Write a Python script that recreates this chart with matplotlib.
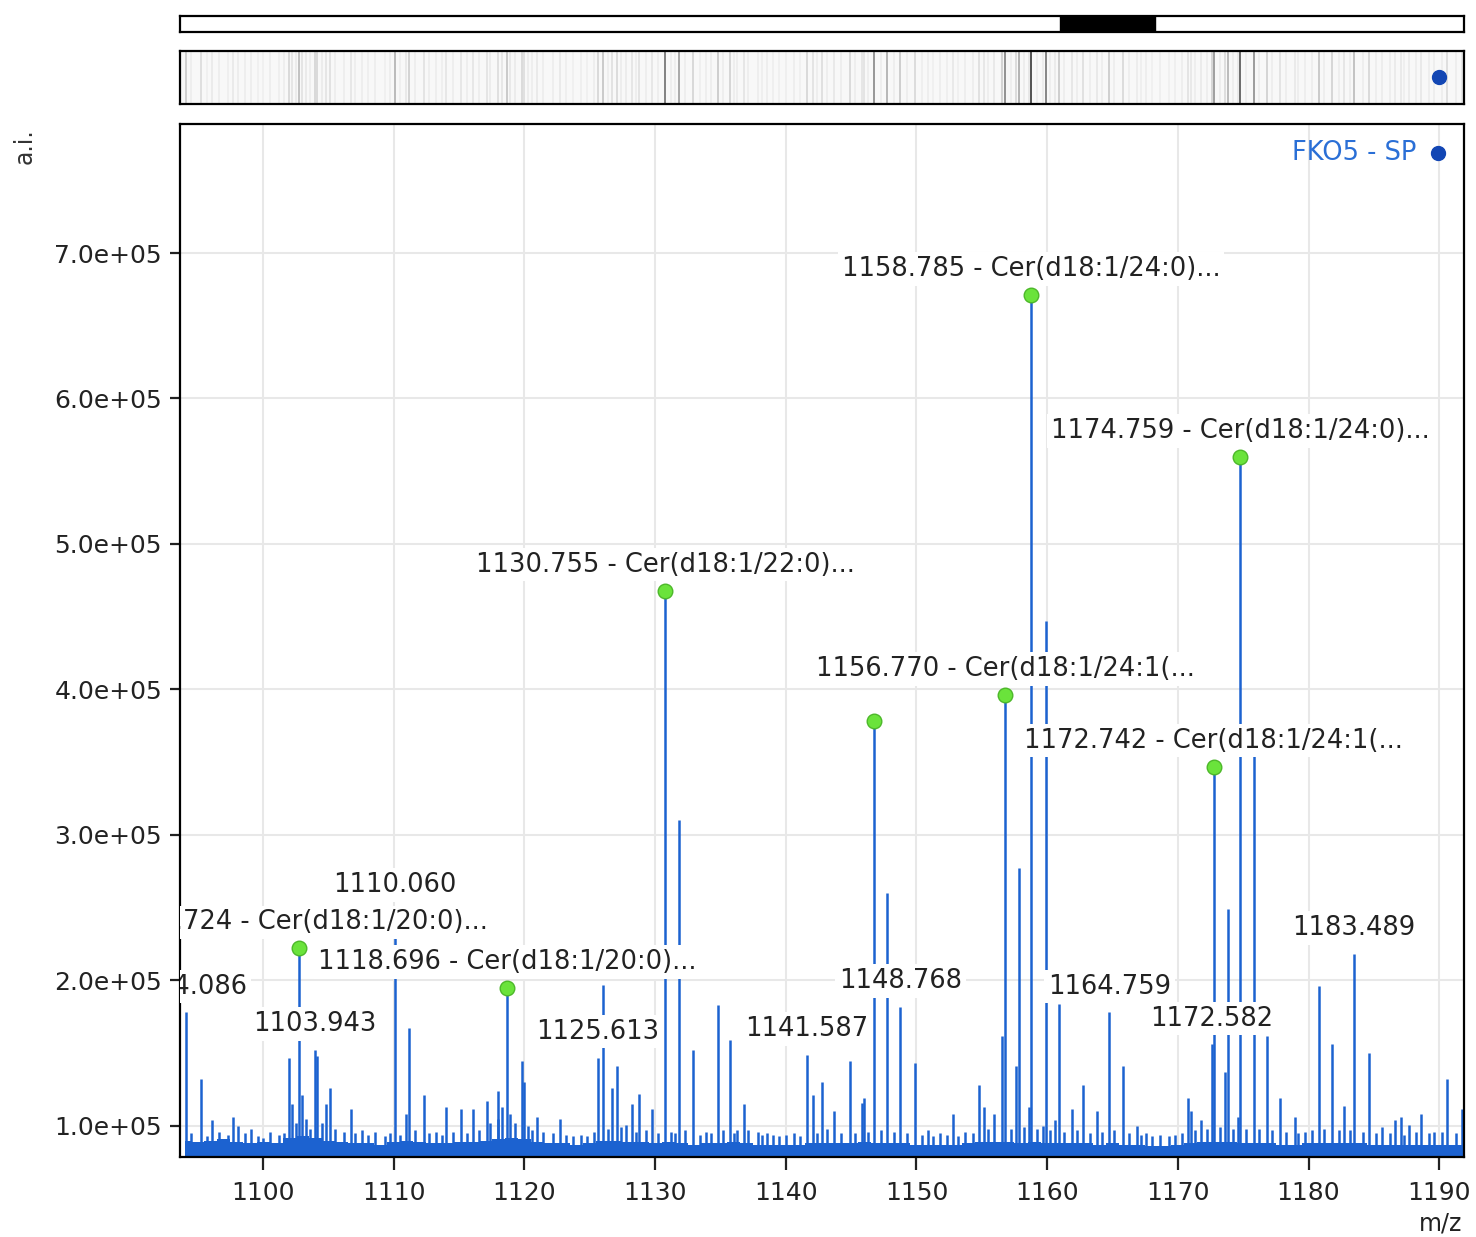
import numpy as np
import matplotlib
matplotlib.use("Agg")
import matplotlib.pyplot as plt
from matplotlib.ticker import FuncFormatter, MultipleLocator
from matplotlib.patches import Rectangle

# ---- data (m/z, intensity in units of 1e5) ----
peak_mz = [1094.086, 1095.25, 1096.1, 1097.7, 1098.1, 1099.1, 1102.0, 1102.25, 1102.724, 1103.0,
           1103.943, 1104.15, 1104.8, 1105.1, 1106.7, 1107.6, 1110.060, 1110.95, 1111.2, 1112.3,
           1114.0, 1115.15, 1116.05, 1117.1, 1117.95, 1118.25, 1118.696, 1119.8, 1120.0, 1121.0,
           1122.7, 1123.7, 1125.613, 1126.05, 1126.7, 1127.1, 1127.8, 1128.2, 1128.8, 1129.3,
           1129.8, 1130.755, 1131.85, 1132.9, 1134.8, 1135.7, 1136.3, 1136.8, 1137.1, 1137.9,
           1138.6, 1141.587, 1142.1, 1142.75, 1143.15, 1143.7, 1144.2, 1144.9, 1145.8, 1146.0,
           1146.75, 1147.75, 1148.768, 1149.9, 1150.9, 1151.8, 1152.8, 1153.7, 1154.8, 1155.15,
           1155.9, 1156.55, 1156.770, 1157.65, 1157.85, 1158.6, 1158.785, 1159.65, 1159.9, 1160.6,
           1160.9, 1161.9, 1162.75, 1163.8, 1164.759, 1165.15, 1165.8, 1166.9, 1167.6, 1170.75,
           1171.0, 1171.75, 1172.582, 1172.742, 1173.6, 1173.85, 1174.6, 1174.759, 1175.85, 1176.85,
           1177.85, 1178.95, 1179.7, 1180.8, 1181.8, 1182.75, 1183.489, 1184.6, 1185.6, 1186.6,
           1187.05, 1187.65, 1188.6, 1189.6, 1190.6, 1191.75]
peak_int = [1.78, 1.32, 1.04, 1.06, 1.00, 0.98, 1.47, 1.15, 2.22, 1.21,
            1.52, 1.48, 1.15, 1.26, 1.12, 0.97, 2.48, 1.08, 1.67, 1.21,
            1.13, 1.12, 1.12, 1.17, 1.24, 1.13, 1.95, 1.45, 1.30, 1.06,
            1.05, 0.93, 1.47, 1.97, 1.26, 1.41, 1.01, 1.15, 1.22, 0.97,
            1.12, 4.68, 3.10, 1.52, 1.83, 1.59, 0.97, 1.15, 0.97, 0.96,
            0.95, 1.49, 1.21, 1.30, 0.98, 1.10, 0.95, 1.45, 1.16, 1.19,
            3.78, 2.60, 1.82, 1.43, 0.97, 0.95, 1.08, 0.96, 1.28, 1.13,
            1.08, 1.62, 3.96, 1.41, 2.77, 1.13, 6.71, 1.00, 4.47, 1.04,
            1.84, 1.12, 1.28, 1.10, 1.78, 0.97, 1.41, 1.00, 0.95, 1.19,
            1.10, 1.04, 1.56, 3.47, 1.37, 2.49, 1.06, 5.60, 3.60, 1.62,
            1.19, 1.06, 0.96, 1.96, 1.56, 1.14, 2.18, 1.50, 0.99, 1.04,
            1.06, 1.01, 1.08, 0.96, 1.32, 1.12]

# small noise spikes sitting on the floor
minor_mz = [1094.5, 1095.7, 1096.6, 1097.3, 1098.6, 1099.6, 1100.0, 1100.5, 1101.2, 1101.6,
            1102.5, 1103.3, 1103.6, 1104.5, 1105.5, 1106.2, 1107.0, 1108.0, 1108.6, 1109.3,
            1109.7, 1110.5, 1111.6, 1112.7, 1113.2, 1113.7, 1114.5, 1115.6, 1116.5, 1117.4,
            1118.0, 1118.9, 1119.3, 1120.3, 1120.6, 1121.4, 1122.2, 1123.2, 1124.3, 1124.8,
            1125.3, 1126.4, 1127.4, 1128.5, 1130.2, 1131.2, 1131.5, 1132.3, 1133.4, 1133.9,
            1134.3, 1135.2, 1136.0, 1138.2, 1139.0, 1139.5, 1140.0, 1140.6, 1141.1, 1142.4,
            1145.3, 1146.3, 1147.3, 1148.3, 1149.3, 1150.4, 1151.3, 1152.3, 1153.2, 1154.3,
            1155.5, 1157.2, 1158.2, 1159.2, 1160.2, 1161.3, 1162.3, 1163.3, 1164.2, 1166.3,
            1167.2, 1168.0, 1168.6, 1169.3, 1169.8, 1170.3, 1171.3, 1172.2, 1173.2, 1174.2,
            1175.2, 1176.2, 1177.2, 1178.3, 1179.2, 1180.3, 1181.2, 1182.3, 1183.2, 1184.2,
            1185.2, 1186.2, 1187.3, 1188.2, 1189.2, 1190.2, 1191.3]
minor_int = [0.95, 0.93, 0.96, 0.94, 0.95, 0.93, 0.92, 0.96, 0.94, 0.95,
             1.02, 1.05, 0.98, 1.02, 0.98, 0.96, 0.95, 0.94, 0.96, 0.93,
             0.95, 0.94, 0.97, 0.95, 0.96, 0.94, 0.96, 0.95, 0.97, 1.02,
             1.05, 1.08, 1.02, 1.00, 0.97, 0.96, 0.95, 0.94, 0.94, 0.93,
             0.96, 0.98, 0.99, 0.96, 0.95, 0.96, 0.95, 0.97, 0.94, 0.96,
             0.95, 0.97, 0.95, 0.94, 0.94, 0.93, 0.94, 0.95, 0.93, 0.95,
             0.95, 0.96, 0.97, 0.96, 0.95, 0.94, 0.93, 0.94, 0.93, 0.95,
             0.98, 0.98, 0.99, 0.98, 0.97, 0.96, 0.97, 0.95, 0.96, 0.95,
             0.94, 0.93, 0.94, 0.93, 0.94, 0.95, 0.97, 0.98, 0.99, 0.98,
             0.98, 0.98, 0.97, 0.96, 0.95, 0.97, 0.98, 0.97, 0.97, 0.96,
             0.95, 0.95, 0.94, 0.96, 0.95, 0.96, 0.95]

# noise floor, one level per integer m/z from 1094 to 1192
floor_mz = list(range(1094, 1193))
floor_int = [0.90, 0.89, 0.90, 0.91, 0.89, 0.88, 0.89, 0.88, 0.92, 0.93,
             0.92, 0.90, 0.89, 0.88, 0.88, 0.87, 0.89, 0.90, 0.89, 0.88,
             0.88, 0.89, 0.89, 0.90, 0.91, 0.92, 0.91, 0.89, 0.88, 0.88,
             0.87, 0.88, 0.90, 0.90, 0.89, 0.89, 0.88, 0.89, 0.88, 0.87,
             0.88, 0.88, 0.89, 0.88, 0.87, 0.87, 0.87, 0.87, 0.88, 0.88,
             0.88, 0.88, 0.89, 0.88, 0.88, 0.88, 0.87, 0.87, 0.87, 0.87,
             0.88, 0.89, 0.89, 0.89, 0.88, 0.89, 0.88, 0.88, 0.88, 0.88,
             0.87, 0.88, 0.87, 0.87, 0.86, 0.86, 0.87, 0.88, 0.89, 0.89,
             0.89, 0.88, 0.88, 0.88, 0.87, 0.87, 0.88, 0.88, 0.88, 0.88,
             0.88, 0.87, 0.87, 0.87, 0.87, 0.87, 0.87, 0.87, 0.87]

# identified peaks (green markers) and their labels
id_mz = [1102.724, 1118.696, 1130.755, 1146.75, 1156.770, 1158.785, 1172.742, 1174.759]
id_label = ["1102.724 - Cer(d18:1/20:0)...", "1118.696 - Cer(d18:1/20:0)...",
            "1130.755 - Cer(d18:1/22:0)...", "",
            "1156.770 - Cer(d18:1/24:1(...", "1158.785 - Cer(d18:1/24:0)...",
            "1172.742 - Cer(d18:1/24:1(...", "1174.759 - Cer(d18:1/24:0)..."]

# other labelled peaks
pk_label_mz = [1094.086, 1103.943, 1110.060, 1125.613, 1141.587, 1148.768,
               1164.759, 1172.582, 1183.489]

sample_name = "FKO5 - SP"
view_range = (1093.65, 1191.9)
full_range = (183.0, 1512.0)

BLUE = "#1c62d0"
SCALE = 1e5

lookup = dict(zip(peak_mz, peak_int))

fig = plt.figure(figsize=(14.76, 12.37), dpi=100)
plt.rcParams["font.family"] = "DejaVu Sans"

# ---- navigator bar ----
nav = fig.add_axes([0.122, 0.9741, 0.8699, 0.0129])
nav.set_xlim(*full_range)
nav.set_ylim(0, 1)
nav.add_patch(Rectangle((view_range[0], 0), view_range[1] - view_range[0], 1, color="black"))
nav.set_xticks([])
nav.set_yticks([])
for s in nav.spines.values():
    s.set_linewidth(1.6)

# ---- intensity strip ----
strip = fig.add_axes([0.122, 0.9159, 0.8699, 0.0429])
strip.set_facecolor("#f8f8f8")
strip.set_xlim(*view_range)
strip.set_ylim(0, 1)
all_mz = list(minor_mz) + list(peak_mz)
all_int = np.array(list(minor_int) + list(peak_int))
frac = np.clip((all_int - 0.85) / (all_int.max() - 0.85), 0, 1)
greys = [str(round(0.96 - 0.75 * f ** 0.8, 3)) for f in frac]
strip.vlines(all_mz, 0, 1, colors=greys, lw=1.2)
strip.plot([1190.0], [0.5], "o", color="#1246b4", ms=10)
strip.set_xticks([])
strip.set_yticks([])
for s in strip.spines.values():
    s.set_linewidth(1.6)

# ---- main spectrum ----
ax = fig.add_axes([0.122, 0.0647, 0.8699, 0.8351])
ymin, ymax = 0.787 * SCALE, 7.887 * SCALE
ax.set_xlim(*view_range)
ax.set_ylim(ymin, ymax)
ax.grid(True, color="#e8e8e8", lw=1.5)
ax.set_axisbelow(True)

ax.fill_between(floor_mz, ymin, np.array(floor_int) * SCALE, step="mid", color=BLUE, lw=0, zorder=2)
ax.vlines(minor_mz, ymin, np.array(minor_int) * SCALE, colors=BLUE, lw=1.8, zorder=2)
ax.vlines(peak_mz, ymin, np.array(peak_int) * SCALE, colors=BLUE, lw=1.8, zorder=2)

txt_kw = dict(ha="center", va="center", fontsize=18.5, color="#222222",
              textcoords="offset points", clip_on=True, zorder=4,
              bbox=dict(boxstyle="square,pad=0.15", fc="white", ec="none"))

for m in pk_label_mz:
    ax.annotate(f"{m:.3f}", (m, lookup[m] * SCALE), xytext=(0, 18.7), **txt_kw)
for m, lab in zip(id_mz, id_label):
    if lab:
        ax.annotate(lab, (m, lookup[m] * SCALE), xytext=(0, 18.7), **txt_kw)

ax.plot(id_mz, [lookup[m] * SCALE for m in id_mz], "o", ms=10.5,
        mfc="#6ae33b", mec="#4db82a", mew=1, zorder=5, clip_on=False)

ax.xaxis.set_major_locator(MultipleLocator(10))
ax.yaxis.set_major_locator(MultipleLocator(SCALE))
ax.yaxis.set_major_formatter(FuncFormatter(lambda v, p: f"{v:.1e}"))
ax.tick_params(axis="both", labelsize=18, colors="#222222", width=1.6, direction="out")
ax.tick_params(axis="y", length=7, pad=6)
ax.tick_params(axis="x", length=9, pad=8)
for s in ax.spines.values():
    s.set_linewidth(1.6)

ax.text(0.9626, 0.9719, sample_name, transform=ax.transAxes, ha="right", va="center",
        fontsize=18.5, color="#2a6fd6")
ax.plot([0.9798], [0.9719], "o", transform=ax.transAxes, color="#1246b4", ms=10, clip_on=False)

fig.text(0.017, 0.882, "a.i.", rotation=90, ha="center", va="center", fontsize=17, color="#333333")
fig.text(0.991, 0.011, "m/z", ha="right", va="center", fontsize=17, color="#222222")

fig.savefig("out.png", dpi=100)
